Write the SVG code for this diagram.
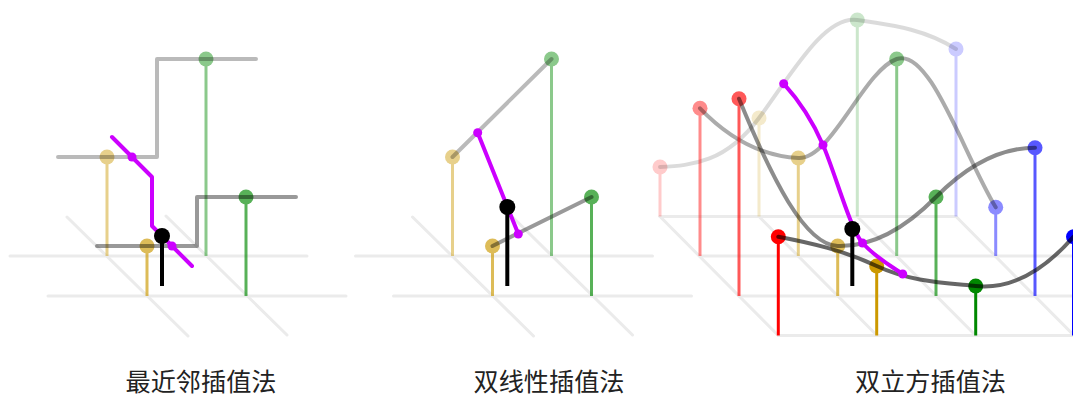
<svg xmlns="http://www.w3.org/2000/svg" width="1073" height="396" viewBox="0 0 1073 396">
  <style>
    .grid { stroke: #ebebeb; stroke-width: 3; stroke-linecap: round; fill: none; }
    .stem { stroke-width: 3; }
    .gray { fill: none; stroke: #000; stroke-width: 4; stroke-linecap: round; stroke-linejoin: round; }
    .mag { fill: none; stroke: #cc00ff; stroke-width: 4; stroke-linecap: round; stroke-linejoin: round; }
    .magdot { fill: #cc00ff; }
    .probe { stroke: #000; stroke-width: 4; }
    .red { stroke: #ff0000; fill: #ff0000; }
    .gold { stroke: #cc9900; fill: #cc9900; }
    .green { stroke: #008800; fill: #008800; }
    .blue { stroke: #0000ff; fill: #0000ff; }
    .label { font-family: "Noto Sans CJK SC", "Noto Sans", sans-serif; font-size: 25px; fill: #222; text-anchor: middle; }
  </style>

  <!-- Nearest neighbour -->
  <g id="nearest">
    <g id="nearest-grid">
      <line class="grid" x1="10" y1="256" x2="307" y2="256"/>
      <line class="grid" x1="48" y1="296" x2="346" y2="296"/>
      <line class="grid" x1="67" y1="217" x2="188" y2="336"/>
      <line class="grid" x1="166" y1="216" x2="287" y2="335"/>
    </g>
    <g id="nearest-samples">
      <g opacity="0.45" class="gold"><line class="stem" x1="107" y1="256" x2="107" y2="157"/><circle cx="107" cy="157" r="7.5" stroke="none"/></g>
      <g opacity="0.45" class="green"><line class="stem" x1="206" y1="256" x2="206" y2="59"/><circle cx="206" cy="59" r="7.5" stroke="none"/></g>
      <path class="gray" stroke-opacity="0.27" d="M58,157 H157 V59 H256"/>
      <g opacity="0.65" class="gold"><line class="stem" x1="147" y1="296" x2="147" y2="246"/><circle cx="147" cy="246" r="7.5" stroke="none"/></g>
      <g opacity="0.65" class="green"><line class="stem" x1="246" y1="296" x2="246" y2="197"/><circle cx="246" cy="197" r="7.5" stroke="none"/></g>
      <path class="gray" stroke-opacity="0.4" d="M97,246 H197 V197 H296"/>
    </g>
    <g id="nearest-result">
      <path class="mag" d="M112,137 L152,177 L152,226 L192,266"/>
      <circle class="magdot" cx="132" cy="157" r="4.5"/>
      <circle class="magdot" cx="172" cy="246" r="4.5"/>
      <line class="probe" x1="162" y1="236" x2="162" y2="286"/>
      <circle cx="162" cy="236" r="8" fill="#000"/>
    </g>
  </g>

  <!-- Bilinear -->
  <g id="bilinear">
    <g id="bilinear-grid">
      <line class="grid" x1="355.5" y1="256" x2="652.5" y2="256"/>
      <line class="grid" x1="393.5" y1="296" x2="691.5" y2="296"/>
      <line class="grid" x1="412.5" y1="217" x2="533.5" y2="336"/>
      <line class="grid" x1="511.5" y1="216" x2="632.5" y2="335"/>
    </g>
    <g id="bilinear-samples">
      <g opacity="0.45" class="gold"><line class="stem" x1="452.5" y1="256" x2="452.5" y2="157"/><circle cx="452.5" cy="157" r="7.5" stroke="none"/></g>
      <g opacity="0.45" class="green"><line class="stem" x1="551.5" y1="256" x2="551.5" y2="59"/><circle cx="551.5" cy="59" r="7.5" stroke="none"/></g>
      <path class="gray" stroke-opacity="0.27" d="M452.5,157 L551.5,59"/>
      <g opacity="0.65" class="gold"><line class="stem" x1="492.5" y1="296" x2="492.5" y2="246"/><circle cx="492.5" cy="246" r="7.5" stroke="none"/></g>
      <g opacity="0.65" class="green"><line class="stem" x1="591.5" y1="296" x2="591.5" y2="197"/><circle cx="591.5" cy="197" r="7.5" stroke="none"/></g>
      <path class="gray" stroke-opacity="0.4" d="M492.5,246 L591.5,197"/>
    </g>
    <g id="bilinear-result">
      <path class="mag" d="M477.7,132.7 L518.3,234"/>
      <circle class="magdot" cx="477.7" cy="132.7" r="4.5"/>
      <circle class="magdot" cx="518.3" cy="234" r="4.5"/>
      <line class="probe" x1="507.3" y1="207" x2="507.3" y2="286"/>
      <circle cx="507.3" cy="207" r="8" fill="#000"/>
    </g>
  </g>

  <!-- Bicubic -->
  <g id="bicubic">
    <g id="bicubic-grid">
      <line class="grid" x1="660" y1="216.5" x2="956" y2="216.5"/>
      <line class="grid" x1="700" y1="256" x2="1080" y2="256"/>
      <line class="grid" x1="739" y1="296" x2="1080" y2="296"/>
      <line class="grid" x1="778.3" y1="335.5" x2="1080" y2="335.5"/>
      <line class="grid" x1="660" y1="216.5" x2="778.3" y2="335.5"/>
      <line class="grid" x1="759" y1="216.5" x2="877" y2="335.5"/>
      <line class="grid" x1="857.3" y1="216.5" x2="975.7" y2="335.5"/>
      <line class="grid" x1="956" y1="216.5" x2="1074" y2="335.5"/>
    </g>

    <g id="row-1">
      <g opacity="0.2" class="red"><line class="stem" x1="660" y1="216.5" x2="660" y2="167"/><circle cx="660" cy="167" r="7.5" stroke="none"/></g>
      <g opacity="0.2" class="gold"><line class="stem" x1="759" y1="216.5" x2="759" y2="118"/><circle cx="759" cy="118" r="7.5" stroke="none"/></g>
      <g opacity="0.2" class="green"><line class="stem" x1="857.3" y1="216.5" x2="857.3" y2="20"/><circle cx="857.3" cy="20" r="7.5" stroke="none"/></g>
      <g opacity="0.2" class="blue"><line class="stem" x1="956" y1="216.5" x2="956" y2="49"/><circle cx="956" cy="49" r="7.5" stroke="none"/></g>
      <path class="gray" stroke-opacity="0.14" d="M660,167 C693,165.3 726,162.3 759,118 C791.8,73.7 824.5,15 857.3,20 C890.2,25 923.1,28.3 956,49"/>
    </g>

    <g id="row-2">
      <g opacity="0.45" class="red"><line class="stem" x1="700" y1="256" x2="700" y2="108.3"/><circle cx="700" cy="108.3" r="7.5" stroke="none"/></g>
      <g opacity="0.45" class="gold"><line class="stem" x1="798.3" y1="256" x2="798.3" y2="158"/><circle cx="798.3" cy="158" r="7.5" stroke="none"/></g>
      <g opacity="0.45" class="green"><line class="stem" x1="896.7" y1="256" x2="896.7" y2="59"/><circle cx="896.7" cy="59" r="7.5" stroke="none"/></g>
      <g opacity="0.45" class="blue"><line class="stem" x1="995.7" y1="256" x2="995.7" y2="207.3"/><circle cx="995.7" cy="207.3" r="7.5" stroke="none"/></g>
      <path class="gray" stroke-opacity="0.33" d="M700,108.3 C732.8,142.3 765.5,156.3 798.3,158 C831.1,159.7 863.9,70.7 896.7,59 C929.7,47.3 962.7,152.3 995.7,207.3"/>
    </g>

    <g id="row-3">
      <g opacity="0.65" class="red"><line class="stem" x1="739" y1="296" x2="739" y2="98.7"/><circle cx="739" cy="98.7" r="7.5" stroke="none"/></g>
      <g opacity="0.65" class="gold"><line class="stem" x1="837.7" y1="296" x2="837.7" y2="246"/><circle cx="837.7" cy="246" r="7.5" stroke="none"/></g>
      <g opacity="0.65" class="green"><line class="stem" x1="936" y1="296" x2="936" y2="197"/><circle cx="936" cy="197" r="7.5" stroke="none"/></g>
      <g opacity="0.65" class="blue"><line class="stem" x1="1035" y1="296" x2="1035" y2="147.7"/><circle cx="1035" cy="147.7" r="7.5" stroke="none"/></g>
      <path class="gray" stroke-opacity="0.45" d="M739,98.7 C771.9,178.7 804.8,245 837.7,246 C870.5,247 903.2,230.3 936,197 C969,163.7 1002,147.7 1035,147.7"/>
    </g>

    <g id="row-4">
      <g class="red"><line class="stem" x1="778.3" y1="335.5" x2="778.3" y2="236.7"/><circle cx="778.3" cy="236.7" r="7.5" stroke="none"/></g>
      <g class="gold"><line class="stem" x1="876.7" y1="335.5" x2="876.7" y2="266"/><circle cx="876.7" cy="266" r="7.5" stroke="none"/></g>
      <g class="green"><line class="stem" x1="975.7" y1="335.5" x2="975.7" y2="286"/><circle cx="975.7" cy="286" r="7.5" stroke="none"/></g>
      <g class="blue"><line class="stem" x1="1073.5" y1="335.5" x2="1073.5" y2="236.7"/><circle cx="1073.5" cy="236.7" r="7.5" stroke="none"/></g>
      <path class="gray" stroke-opacity="0.6" d="M778.3,236.7 C811.1,242.9 843.9,250.5 876.7,266 C909.7,281.5 942.7,282.7 975.7,286 C1007.9,289.3 1040.1,275 1073.5,236.7"/>
    </g>

    <g id="bicubic-result">
      <path class="mag" d="M783.7,83.7 C800.7,102.4 813.5,123.1 823,145 C835,172.6 850.5,229.8 862.5,243 C875.5,257.3 889.7,265.3 902.7,274"/>
      <circle class="magdot" cx="783.7" cy="83.7" r="4.5"/>
      <circle class="magdot" cx="823" cy="145" r="4.5"/>
      <circle class="magdot" cx="862.5" cy="243" r="4.5"/>
      <circle class="magdot" cx="902.7" cy="274" r="4.5"/>
      <line class="probe" x1="852.3" y1="229" x2="852.3" y2="286"/>
      <circle cx="852.3" cy="229" r="8" fill="#000"/>
    </g>
  </g>

  <g id="labels">
    <text class="label" x="201" y="391" textLength="151" lengthAdjust="spacingAndGlyphs">最近邻插值法</text>
    <text class="label" x="549" y="391" textLength="151" lengthAdjust="spacingAndGlyphs">双线性插值法</text>
    <text class="label" x="930.5" y="391" textLength="151" lengthAdjust="spacingAndGlyphs">双立方插值法</text>
  </g>
</svg>
